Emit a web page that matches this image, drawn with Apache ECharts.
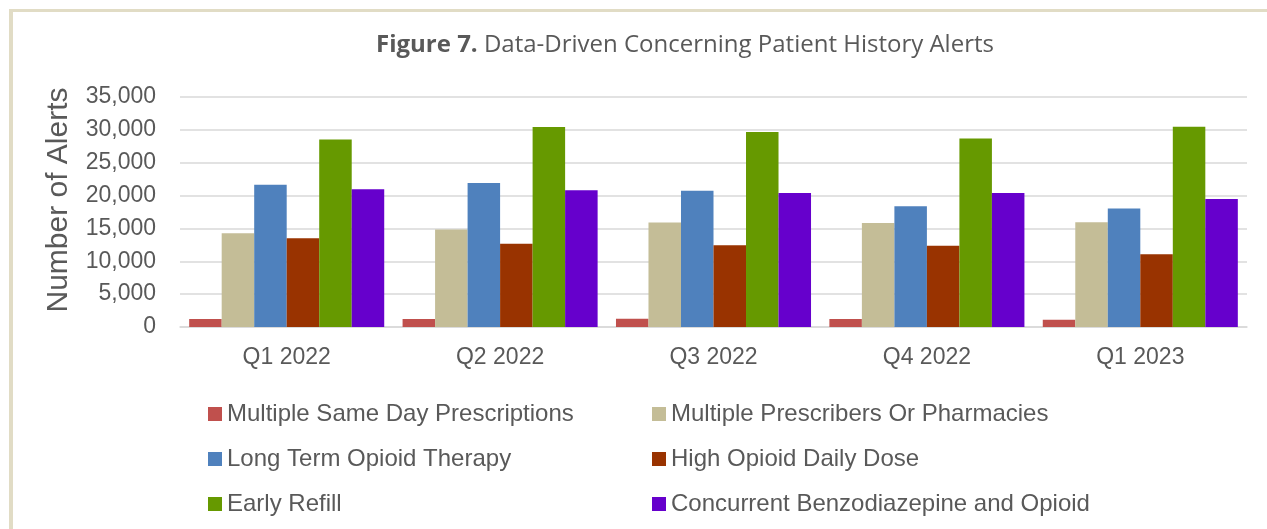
<!DOCTYPE html>
<html>
<head>
<meta charset="utf-8">
<script src="https://cdn.jsdelivr.net/npm/echarts@6/dist/echarts.min.js"></script>
<style>html,body{margin:0;padding:0;background:#fff}#c{width:1267px;height:529px}</style>
</head>
<body>
<div id="c"></div>
<script>
var categories = ['Q1 2022', 'Q2 2022', 'Q3 2022', 'Q4 2022', 'Q1 2023'];
var seriesNames = [
  'Multiple Same Day Prescriptions',
  'Multiple Prescribers Or Pharmacies',
  'Long Term Opioid Therapy',
  'High Opioid Daily Dose',
  'Early Refill',
  'Concurrent Benzodiazepine and Opioid'
];
var multipleSameDay = [1210, 1215, 1265, 1215, 1110];
var multiplePrescribers = [14250, 14830, 15890, 15840, 15940];
var longTermOpioid = [21650, 21910, 20750, 18370, 18020];
var highOpioidDose = [13500, 12650, 12450, 12350, 11080];
var earlyRefill = [28550, 30420, 29660, 28700, 30470];
var concurrentBenzo = [20950, 20800, 20400, 20400, 19480];
var yTicks = [0, 5000, 10000, 15000, 20000, 25000, 30000, 35000];

var colors = ['#C0504D', '#C4BD97', '#4F81BD', '#993300', '#669900', '#6600CC'];
var allData = [multipleSameDay, multiplePrescribers, longTermOpioid, highOpioidDose, earlyRefill, concurrentBenzo];

var chart = echarts.init(document.getElementById('c'));
var txt = '#595959';
var series = seriesNames.map(function (n, i) {
  return {
    name: n, type: 'bar', data: allData[i],
    barGap: '0%', barCategoryGap: '8.6%',
    itemStyle: { color: colors[i] }
  };
});
var legendBase = {
  orient: 'vertical', itemWidth: 14, itemHeight: 14, itemGap: 21,
  icon: 'rect', top: 402, padding: 0,
  textStyle: { fontFamily: 'Liberation Sans, Arial', fontSize: 24, color: txt }
};
chart.setOption({
  animation: false,
  title: {
    text: '{b|Figure 7.} Data-Driven Concerning Patient History Alerts',
    left: 371, top: 28,
    textStyle: {
      fontFamily: 'Open Sans', fontSize: 24, color: txt, fontWeight: 'normal',
      rich: { b: { fontFamily: 'Open Sans', fontSize: 24, fontWeight: 'bold', color: txt } }
    }
  },
  graphic: [
    { type: 'rect', shape: { x: 9, y: 9, width: 4, height: 520 }, style: { fill: '#E1DCC5' } },
    { type: 'rect', shape: { x: 9, y: 9, width: 1258, height: 3 }, style: { fill: '#E1DCC5' } }
  ],
  legend: [
    Object.assign({}, legendBase, { left: 208, data: [seriesNames[0], seriesNames[2], seriesNames[4]] }),
    Object.assign({}, legendBase, { left: 652, data: [seriesNames[1], seriesNames[3], seriesNames[5]] })
  ],
  grid: { left: 180, right: 20, top: 97, bottom: 202, containLabel: false },
  xAxis: {
    type: 'category', data: categories,
    axisLine: { lineStyle: { color: '#D9D9D9', width: 1.5 } },
    axisTick: { show: false },
    axisLabel: { fontFamily: 'Liberation Sans, Arial', fontSize: 23, color: txt, margin: 19 }
  },
  yAxis: {
    type: 'value', min: 0, max: 35000, interval: 5000,
    name: 'Number of Alerts', nameLocation: 'middle', nameGap: 106,
    nameTextStyle: { fontFamily: 'Liberation Sans, Arial', fontSize: 30, color: txt, padding: [0, 0, 0, 24] },
    axisLine: { show: false }, axisTick: { show: false },
    splitLine: { lineStyle: { color: '#D9D9D9', width: 1.5 } },
    axisLabel: {
      fontFamily: 'Liberation Sans, Arial', fontSize: 23, color: txt, margin: 24,
      formatter: function (v) { return yTicks.indexOf(v) >= 0 ? v.toLocaleString('en-US') : ''; }
    }
  },
  series: series
});
</script>
</body>
</html>
